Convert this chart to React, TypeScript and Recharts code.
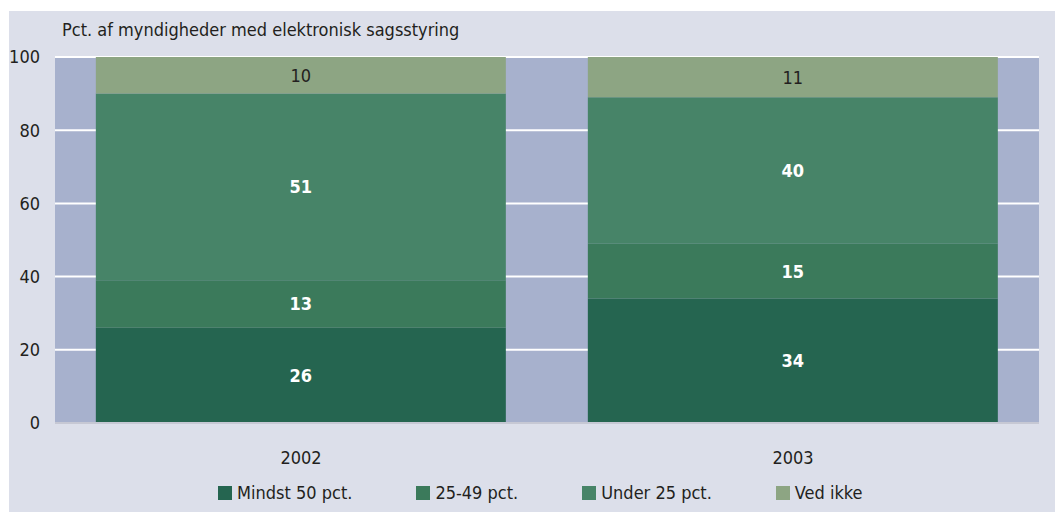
import { BarChart, Bar, XAxis, YAxis, CartesianGrid, LabelList } from 'recharts'

const years = ['2002', '2003']
const mindst50 = [26, 34]
const pct2549 = [13, 15]
const under25 = [51, 40]
const vedIkke = [10, 11]
const yTicks = [0, 20, 40, 60, 80, 100]

const series = [
  { key: 'mindst50', name: 'Mindst 50 pct.', color: '#256550', label: '#ffffff', bold: true },
  { key: 'pct2549', name: '25-49 pct.', color: '#3b7a5b', label: '#ffffff', bold: true },
  { key: 'under25', name: 'Under 25 pct.', color: '#478468', label: '#ffffff', bold: true },
  { key: 'vedIkke', name: 'Ved ikke', color: '#8da583', label: '#231f20', bold: false },
]

const data = years.map((year, i) => ({
  year,
  mindst50: mindst50[i],
  pct2549: pct2549[i],
  under25: under25[i],
  vedIkke: vedIkke[i],
}))

const font = '"Liberation Sans Narrow", "DejaVu Sans Condensed", "Noto Sans", sans-serif'
const textColor = '#231f20'

export default function App() {
  return (
    <div style={{ position: 'absolute', left: 0, top: 0, width: 1055, height: 512, background: '#fff', fontFamily: font }}>
      <div style={{ position: 'absolute', left: 9, top: 11, width: 1046, height: 501, background: '#dcdfea' }}>
        <div style={{ position: 'absolute', left: 53, top: 8, fontSize: 18, color: textColor }}>
          Pct. af myndigheder med elektronisk sagsstyring
        </div>
        <BarChart
          width={1046}
          height={501}
          data={data}
          margin={{ top: 46, right: 16, left: 0, bottom: 49 }}
          barCategoryGap="8.3%"
        >
          <CartesianGrid vertical={false} fill="#a7b1cd" fillOpacity={1} stroke="#ffffff" strokeWidth={2} />
          <XAxis
            dataKey="year"
            height={40}
            tickLine={false}
            tickSize={0}
            tickMargin={28}
            axisLine={{ stroke: '#c6c8d4', strokeWidth: 2 }}
            tick={{ fontSize: 18, fill: textColor, fontFamily: font }}
          />
          <YAxis
            width={46}
            domain={[0, 100]}
            ticks={yTicks}
            tickLine={false}
            axisLine={false}
            tickSize={0}
            tickMargin={15}
            tick={{ fontSize: 18, fill: textColor, fontFamily: font }}
          />
          {series.map((s) => (
            <Bar key={s.key} dataKey={s.key} name={s.name} stackId="a" fill={s.color} isAnimationActive={false}>
              <LabelList
                dataKey={s.key}
                position="center"
                fill={s.label}
                fontSize={18}
                fontWeight={s.bold ? 'bold' : 'normal'}
                fontFamily={font}
              />
            </Bar>
          ))}
        </BarChart>
        <div style={{ position: 'absolute', left: 209, top: 471, display: 'flex', alignItems: 'center', fontSize: 18, lineHeight: '22px', color: textColor }}>
          {series.map((s, i) => (
            <div key={s.key} style={{ display: 'flex', alignItems: 'center', marginLeft: i === 0 ? 0 : 64 }}>
              <span style={{ width: 14, height: 14, background: s.color, marginRight: 5, display: 'inline-block' }} />
              <span>{s.name}</span>
            </div>
          ))}
        </div>
      </div>
    </div>
  )
}
